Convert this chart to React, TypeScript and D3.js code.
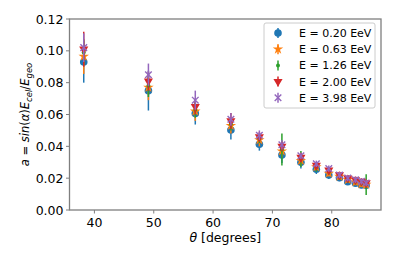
import * as React from "react";
import * as d3 from "d3";

const theta: number[] = [38.2, 49.1, 57.0, 63.0, 67.8, 71.6, 74.8, 77.4, 79.5, 81.3, 82.7, 84.0, 85.0, 85.8];

const a020: number[] = [0.093, 0.075, 0.0607, 0.0503, 0.0413, 0.0346, 0.030, 0.0256, 0.022, 0.0203, 0.0178, 0.0168, 0.0157, 0.0155];
const e020: number[] = [0.013, 0.0125, 0.007, 0.006, 0.004, 0.005, 0.004, 0.003, 0.0025, 0.0022, 0.002, 0.002, 0.002, 0.002];
const a063: number[] = [0.0965, 0.077, 0.062, 0.053, 0.044, 0.037, 0.031, 0.027, 0.023, 0.021, 0.019, 0.0175, 0.0163, 0.016];
const e063: number[] = [0.011, 0.008, 0.006, 0.005, 0.004, 0.004, 0.003, 0.0025, 0.002, 0.002, 0.002, 0.002, 0.002, 0.002];
const a126: number[] = [0.099, 0.078, 0.063, 0.054, 0.045, 0.038, 0.032, 0.027, 0.024, 0.021, 0.019, 0.018, 0.017, 0.016];
const e126: number[] = [0.008, 0.007, 0.005, 0.004, 0.003, 0.010, 0.005, 0.003, 0.002, 0.002, 0.002, 0.002, 0.002, 0.0065];
const a200: number[] = [0.101, 0.081, 0.065, 0.056, 0.046, 0.040, 0.033, 0.028, 0.025, 0.022, 0.020, 0.019, 0.018, 0.017];
const e200: number[] = [0.011, 0.006, 0.005, 0.005, 0.003, 0.003, 0.003, 0.002, 0.002, 0.002, 0.002, 0.002, 0.002, 0.002];
const a398: number[] = [0.102, 0.085, 0.069, 0.057, 0.047, 0.041, 0.034, 0.029, 0.026, 0.022, 0.020, 0.019, 0.018, 0.017];
const e398: number[] = [0.009, 0.007, 0.006, 0.004, 0.003, 0.003, 0.002, 0.002, 0.002, 0.002, 0.002, 0.002, 0.002, 0.002];

const labels: string[] = ["E = 0.20 EeV", "E = 0.63 EeV", "E = 1.26 EeV", "E = 2.00 EeV", "E = 3.98 EeV"];
const colors: string[] = ["#1f77b4", "#ff7f0e", "#2ca02c", "#d62728", "#9467bd"];
const markers: string[] = ["o", "*", ".", "v", "x"];
const series = [
  { a: a020, e: e020 },
  { a: a063, e: e063 },
  { a: a126, e: e126 },
  { a: a200, e: e200 },
  { a: a398, e: e398 },
];

const xTicks: number[] = [40, 50, 60, 70, 80];
const yTicks: number[] = [0, 0.02, 0.04, 0.06, 0.08, 0.1, 0.12];

const left = 69.5, right = 381, top = 19, bottom = 210;
const x = d3.scaleLinear().domain([35.8, 88.3]).range([left, right]);
const y = d3.scaleLinear().domain([0, 0.12]).range([bottom, top]);

const font = "DejaVu Sans, sans-serif";
const fs = 12.5;

function Marker({ kind, cx, cy, color }) {
  if (kind === "o") return <circle cx={cx} cy={cy} r={3.8} fill={color} />;
  if (kind === ".") return <circle cx={cx} cy={cy} r={2} fill={color} />;
  if (kind === "*") {
    const p = d3.symbol(d3.symbolStar, 34)();
    return <path d={p} transform={`translate(${cx},${cy})`} fill={color} />;
  }
  if (kind === "v") {
    const p = d3.symbol(d3.symbolTriangle, 36)();
    return <path d={p} transform={`translate(${cx},${cy}) rotate(180)`} fill={color} />;
  }
  const s = 3.3;
  return (
    <path
      d={`M${cx - s},${cy - s}L${cx + s},${cy + s}M${cx - s},${cy + s}L${cx + s},${cy - s}`}
      stroke={color}
      strokeWidth={1.4}
    />
  );
}

export default function App() {
  return (
    <svg width={395} height={263} style={{ position: "absolute", left: 0, top: 0 }}>
      <rect width={395} height={263} fill="white" />
      {series.map((s, k) => (
        <g key={k}>
          {theta.map((t, i) => (
            <g key={i}>
              <line
                x1={x(t)}
                x2={x(t)}
                y1={y(s.a[i] - s.e[i])}
                y2={y(s.a[i] + s.e[i])}
                stroke={colors[k]}
                strokeWidth={1.5}
              />
              <Marker kind={markers[k]} cx={x(t)} cy={y(s.a[i])} color={colors[k]} />
            </g>
          ))}
        </g>
      ))}
      <rect x={left} y={top} width={right - left} height={bottom - top} fill="none" stroke="#7f7f7f" strokeWidth={1.3} />
      {xTicks.map(t => (
        <g key={t}>
          <line x1={x(t)} x2={x(t)} y1={bottom} y2={bottom + 3.5} stroke="#7f7f7f" strokeWidth={1} />
          <text x={x(t)} y={bottom + 17} textAnchor="middle" fontFamily={font} fontSize={fs} fill="#000">{t}</text>
        </g>
      ))}
      {yTicks.map(t => (
        <g key={t}>
          <line x1={left - 3.5} x2={left} y1={y(t)} y2={y(t)} stroke="#7f7f7f" strokeWidth={1} />
          <text x={left - 6} y={y(t) + 4.5} textAnchor="end" fontFamily={font} fontSize={fs} fill="#000">{t.toFixed(2)}</text>
        </g>
      ))}
      <text x={(left + right) / 2} y={242} textAnchor="middle" fontFamily={font} fontSize={fs} fill="#000">
        <tspan fontStyle="italic">θ</tspan> [degrees]
      </text>
      <text transform={`translate(29,${(top + bottom) / 2}) rotate(-90)`} textAnchor="middle" fontFamily={font} fontSize={11.5} fill="#000">
        <tspan fontStyle="italic">a</tspan> = <tspan fontStyle="italic">sin</tspan>(<tspan fontStyle="italic">α</tspan>)<tspan fontStyle="italic">E</tspan>
        <tspan fontStyle="italic" fontSize={8.5} dy={3}>cel</tspan>
        <tspan dy={-3}>/</tspan><tspan fontStyle="italic">E</tspan>
        <tspan fontStyle="italic" fontSize={8.5} dy={3}>geo</tspan>
      </text>
      <rect x={264} y={23} width={111} height={85} rx={2} fill="white" fillOpacity={0.8} stroke="#cccccc" strokeWidth={1} />
      {labels.map((l, k) => {
        const ly = 33 + k * 16.2;
        return (
          <g key={k}>
            <line x1={278} x2={278} y1={ly - 5} y2={ly + 5} stroke={colors[k]} strokeWidth={1.5} />
            <Marker kind={markers[k]} cx={278} cy={ly} color={colors[k]} />
            <text x={299} y={ly + 4} fontFamily={font} fontSize={11} fill="#000">{l}</text>
          </g>
        );
      })}
    </svg>
  );
}
